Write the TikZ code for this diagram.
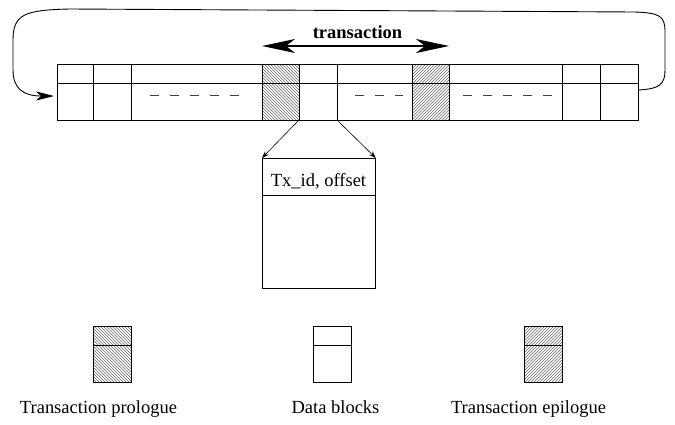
\documentclass[tikz,border=0pt]{standalone}
\usepackage{fontspec}
\setmainfont{Liberation Serif}
\usetikzlibrary{patterns,arrows.meta,calc}
\begin{document}
\begin{tikzpicture}[x=1pt,y=-1pt,line width=0.8pt,
  txt/.style={font=\fontsize{18.5}{22}\selectfont, inner sep=0pt},
  cell/.style={draw, minimum height=56pt, inner sep=0pt, outer sep=0pt, anchor=north west},
  pro/.style={pattern=north west lines, pattern color=black!60},
  epi/.style={pattern=north east lines, pattern color=black!60},
  dashline/.style={draw=black!75, line width=1pt, dash pattern=on 9pt off 11pt},
  smallarrow/.style={line width=0.6pt, -{Stealth[length=7pt,width=5pt]}},
  bigarrow/.style={line width=2pt, {Stealth[length=33pt,width=14pt,inset=9pt]}-{Stealth[length=33pt,width=14pt,inset=9pt]}},
  looparrow/.style={line width=0.9pt, -{Stealth[length=18pt,width=9pt,inset=5pt]}}]
\useasboundingbox (0,0) rectangle (675,424);

% main strip
\node[cell, minimum width=36pt] (c1) at (57,64) {};
\node[cell, minimum width=38pt] (c2) at (93,64) {};
\node[cell, minimum width=131pt] (c3) at (131,64) {};
\node[cell, pro, minimum width=37pt] (c4) at (262,64) {};
\node[cell, minimum width=38pt] (c5) at (299,64) {};
\node[cell, minimum width=75pt] (c6) at (337,64) {};
\node[cell, epi, minimum width=37pt] (c7) at (412,64) {};
\node[cell, minimum width=113pt] (c8) at (449,64) {};
\node[cell, minimum width=38pt] (c9) at (562,64) {};
\node[cell, minimum width=38pt] (c10) at (600,64) {};
\draw ($(c1.north west)+(0,19)$) -- ($(c10.north east)+(0,19)$);

% dashes
\draw[dashline] (150,95) -- (240,95);
\draw[dashline] (355,95) -- (403,95);
\draw[dashline] (463,95) -- (553,95);

% transaction arrow
\node[txt, font=\fontsize{18.5}{22}\selectfont\bfseries, anchor=base] (tlabel) at (357.5,38) {transaction};
\coordinate (tl) at (262,46);
\coordinate (tr) at (449,46);
\draw[bigarrow] (tl) -- (tr);

% loop arrow
\draw[looparrow] ([yshift=2pt]c10.east) .. controls (660,89) and (665,84) .. (665,70)
  -- (665,32) .. controls (665,16) and (660,13) .. (635,12)
  -- (70,9) .. controls (25,10) and (13,14) .. (13,40)
  -- (13,70) .. controls (13,90) and (25,96) .. ([xshift=-3pt,yshift=-4pt]c1.west);

% data block
\node[draw, minimum width=113pt, minimum height=130pt, inner sep=0pt, anchor=north west] (db) at (262,158) {};
\draw ($(db.north west)+(0,37)$) -- ($(db.north east)+(0,37)$);
\node[txt, anchor=base] (dbt) at (318.5,186) {Tx\_id, offset};
\draw[smallarrow] (c4.south east) -- (db.north west);
\draw[smallarrow] (c5.south east) -- (db.north east);

% legend
\node[draw, pro, minimum width=38pt, minimum height=56pt, inner sep=0pt, anchor=north west] (lp) at (93,326) {};
\draw ($(lp.north west)+(0,19)$) -- ($(lp.north east)+(0,19)$);
\node[draw, minimum width=38pt, minimum height=56pt, inner sep=0pt, anchor=north west] (ld) at (313,326) {};
\draw ($(ld.north west)+(0,19)$) -- ($(ld.north east)+(0,19)$);
\node[draw, epi, minimum width=38pt, minimum height=56pt, inner sep=0pt, anchor=north west] (le) at (524,326) {};
\draw ($(le.north west)+(0,19)$) -- ($(le.north east)+(0,19)$);
\node[txt, anchor=base] (lpt) at (98.5,413) {Transaction prologue};
\node[txt, anchor=base] (ldt) at (335.5,413) {Data blocks};
\node[txt, anchor=base] (let) at (528.5,413) {Transaction epilogue};
\end{tikzpicture}
\end{document}
